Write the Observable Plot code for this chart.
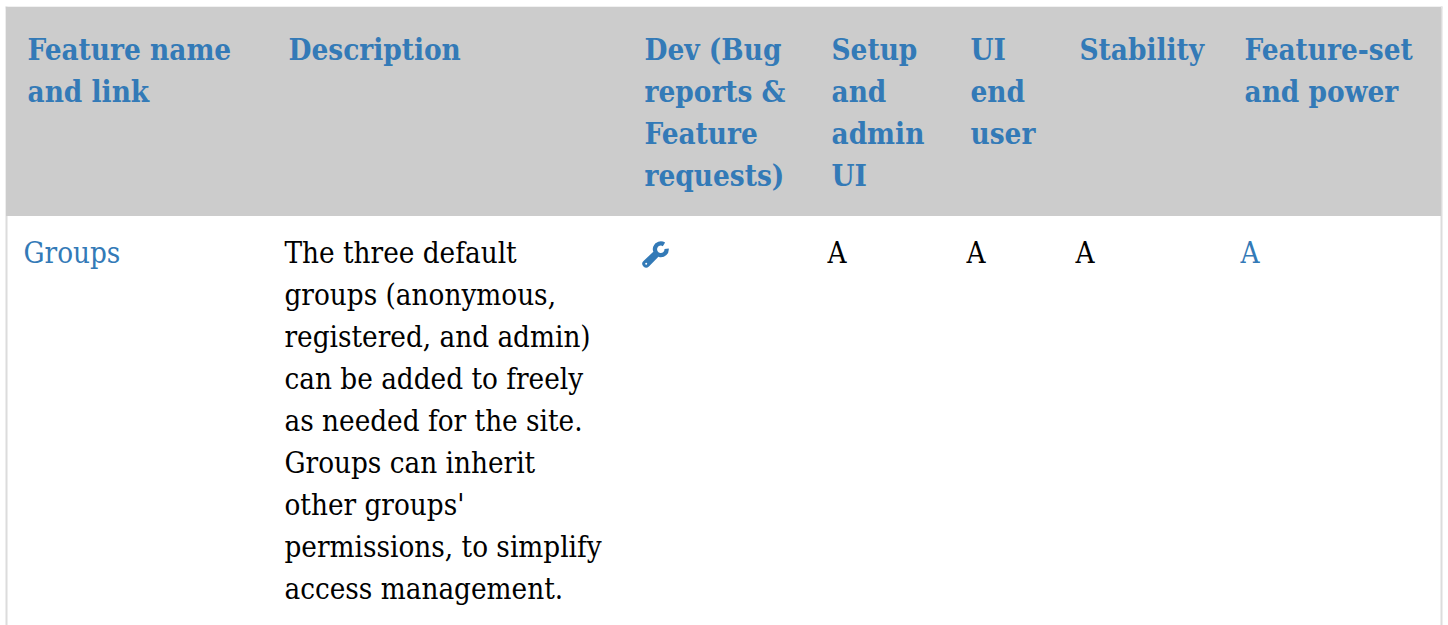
<!DOCTYPE html>
<html>
<head>
<meta charset="utf-8">
<style>html,body{margin:0;padding:0;background:#fff;overflow:hidden}svg{display:block}text{font-stretch:condensed}</style>
<script src="https://cdn.jsdelivr.net/npm/d3@7"></script>
<script src="https://cdn.jsdelivr.net/npm/@observablehq/plot@0.6"></script>
</head>
<body>
<script>
const headerLines = [
  ["Feature name", "and link"],
  ["Description"],
  ["Dev (Bug", "reports &", "Feature", "requests)"],
  ["Setup", "and", "admin", "UI"],
  ["UI", "end", "user"],
  ["Stability"],
  ["Feature-set", "and power"]
];
const featureName = ["Groups"];
const descriptionLines = [
  "The three default",
  "groups (anonymous,",
  "registered, and admin)",
  "can be added to freely",
  "as needed for the site.",
  "Groups can inherit",
  "other groups'",
  "permissions, to simplify",
  "access management."
];
const ratings = [
  {col: 3, grade: "A", link: false},
  {col: 4, grade: "A", link: false},
  {col: 5, grade: "A", link: false},
  {col: 6, grade: "A", link: true}
];
const devColumn = [2];

const BLUE = "#337ab7";
const BODY_ROW = 4.833; // first body line, counted in text lines from the header's first line

const headerData = headerLines.flatMap((lines, col) => lines.map((text, line) => ({col, line, text})));
const bodyData = [
  {col: 0, line: BODY_ROW, text: featureName[0], color: BLUE},
  ...descriptionLines.map((text, i) => ({col: 1, line: BODY_ROW + i, text, color: "#000"})),
  ...ratings.map(r => ({col: r.col, line: BODY_ROW, text: r.grade, color: r.link ? BLUE : "#000"}))
];

const wrench = {
  draw(ctx, size) {
    const s = Math.sqrt(size / Math.PI);
    const R = 8 * s, r = 3.7 * s;
    const a0 = -0.1, a1 = -1.0; // notch, opening to the upper right
    ctx.moveTo(R * Math.cos(a0), R * Math.sin(a0));
    ctx.arc(0, 0, R, a0, a1 + 2 * Math.PI);
    ctx.lineTo(r * Math.cos(a1), r * Math.sin(a1));
    ctx.arc(0, 0, r, a1 + 2 * Math.PI, a0, true);
    ctx.closePath();
    // handle
    const hx = -14.6 * s, hy = 14.4 * s, w = 3.6 * s;
    ctx.moveTo(-6.4 * s, 1.4 * s);
    ctx.lineTo(-1.4 * s, 6.4 * s);
    ctx.lineTo(hx + w * 0.75, hy + w * 0.75);
    ctx.arc(hx, hy, w * 1.06, Math.PI / 4, Math.PI * 5 / 4);
    ctx.closePath();
    // hole near the handle's end, wound the other way
    ctx.moveTo(hx + 1 * s, hy);
    ctx.arc(hx, hy, 1 * s, 0, 2 * Math.PI, true);
    ctx.closePath();
  }
};

const chart = Plot.plot({
  width: 1448,
  height: 625,
  marginTop: 7,
  marginRight: 7,
  marginBottom: 0,
  marginLeft: 6,
  style: {background: "#fff", overflow: "hidden"},
  x: {axis: null, type: "linear", domain: [0, 1, 2, 3, 4, 5, 6], range: [23, 284, 640, 827, 966, 1075, 1240]},
  y: {axis: null, type: "linear", domain: [0, 1], range: [50, 92]},
  marks: [
    Plot.frame({anchor: "left", stroke: "#dcdcdc", strokeWidth: 2}),
    Plot.frame({anchor: "right", stroke: "#dcdcdc", strokeWidth: 2}),
    Plot.frame({anchor: "top", stroke: "#e4e4e4", strokeWidth: 2}),
    Plot.rect([0], {y1: -43 / 42, y2: 166 / 42, fill: "#cccccc"}),
    Plot.text(headerData, {
      x: "col", y: "line", text: "text", dx: 4, dy: 0,
      textAnchor: "start", fill: BLUE, fontWeight: "bold",
      fontFamily: "DejaVu Serif Condensed, DejaVu Serif", fontSize: 29.4
    }),
    Plot.text(bodyData, {
      x: "col", y: "line", text: "text", dy: 0,
      textAnchor: "start", fill: "color",
      fontFamily: "DejaVu Serif Condensed, DejaVu Serif", fontSize: 29.3
    }),
    Plot.dot(devColumn, {
      x: d => d, y: () => BODY_ROW, dx: 20.3, dy: -4.2,
      r: 1, symbol: wrench, fill: BLUE, stroke: "none"
    })
  ]
});
document.body.appendChild(chart);
</script>
</body>
</html>
